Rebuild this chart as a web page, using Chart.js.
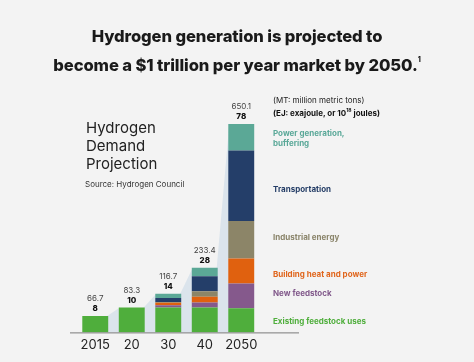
<!DOCTYPE html>
<html>
<head>
<meta charset="utf-8">
<script src="https://cdn.jsdelivr.net/npm/chart.js@4"></script>
<style>
    html, body { margin: 0; padding: 0; }
    body { width: 474px; height: 362px; background: #f3f3f3; position: relative; overflow: hidden; font-family: Inter, 'Open Sans', sans-serif; color: #1a1a1a; }
    #chart { position: absolute; left: 0; top: 0; }
    .title { position: absolute; left: 0; width: 474px; top: 25px; text-align: center; font-weight: 800; font-size: 16.6px; line-height: 23px; letter-spacing: -0.1px; }
    .title sup { font-size: 7px; vertical-align: 9px; }
    .side { position: absolute; left: 86px; top: 119px; font-size: 15px; line-height: 18px; color: #222; }
    .source { position: absolute; left: 85px; top: 179px; font-size: 8px; color: #333; }
    .legend { position: absolute; left: 273px; font-size: 8px; line-height: 9.5px; font-weight: 700; }
</style>
</head>
<body>
<canvas id="chart" width="474" height="362"></canvas>
<div class="title">Hydrogen generation is projected to<br>become a $1 trillion per year market by 2050.<sup>1</sup></div>
<div class="side">Hydrogen<br>Demand<br>Projection</div>
<div class="source">Source: Hydrogen Council</div>
<div class="legend" style="top:96px; font-weight:400; color:#222">(MT: million metric tons)</div>
<div class="legend" style="top:106px; color:#111">(EJ: exajoule, or 10<sup style="font-size:5px">18</sup> joules)</div>
<div class="legend" style="top:129px; color:#5aa898">Power generation,<br>buffering</div>
<div class="legend" style="top:185px; color:#243d66">Transportation</div>
<div class="legend" style="top:233px; color:#8a846a">Industrial energy</div>
<div class="legend" style="top:270px; color:#e0651c">Building heat and power</div>
<div class="legend" style="top:289px; color:#80588a">New feedstock</div>
<div class="legend" style="top:317px; color:#4fae3c">Existing feedstock uses</div>
<script>
// categories and values (EJ)
const years = ['2015', '20', '30', '40', '2050'];
const totalsMT = ['66.7', '83.3', '116.7', '233.4', '650.1'];
const totalsEJ = ['8', '10', '14', '28', '78'];

const existingFeedstock = [6.1, 9.3, 9.3, 9.3, 9.0];
const newFeedstock      = [0, 0, 0.9, 1.9, 9.3];
const buildingHeat      = [0, 0, 0.9, 2.1, 9.3];
const industrialEnergy  = [0, 0, 0.3, 2.1, 14.1];
const transportation    = [0, 0, 1.5, 5.6, 26.3];
const powerGeneration   = [0, 0, 1.6, 3.2, 9.9];

const clrs = {
    existing:  '#4fae3c',
    newFeed:   '#85598c',
    building:  '#e0610f',
    industrial:'#8c8568',
    transport: '#243e69',
    power:     '#5ba896',
    shade:     '#dbe4ec'
};

// light-blue ramps between the bars + baseline
const rampPlugin = {
    id: 'ramp',
    beforeDatasetsDraw(chart) {
        const ctx = chart.ctx;
        const y = chart.scales.y;
        const metas = chart.data.datasets.map((d, i) => chart.getDatasetMeta(i));
        const base = y.getPixelForValue(0);
        const tops = years.map((_, i) => {
            let s = 0;
            chart.data.datasets.forEach(d => s += d.data[i]);
            return y.getPixelForValue(s);
        });
        ctx.save();
        ctx.fillStyle = clrs.shade;
        for (let i = 0; i < years.length - 1; i++) {
            const a = metas[0].data[i], b = metas[0].data[i + 1];
            const ax = a.x + a.width / 2, bx = b.x - b.width / 2;
            ctx.beginPath();
            ctx.moveTo(ax - 1, base);
            ctx.lineTo(ax - 1, tops[i]);
            ctx.lineTo(bx + 1, tops[i + 1]);
            ctx.lineTo(bx + 1, base);
            ctx.closePath();
            ctx.fill();
        }
        ctx.restore();
    },
    afterDatasetsDraw(chart) {
        const ctx = chart.ctx;
        const y = chart.scales.y;
        const meta = chart.getDatasetMeta(0);
        const base = y.getPixelForValue(0);
        ctx.save();
        ctx.strokeStyle = '#7a7a7a';
        ctx.lineWidth = 1;
        ctx.beginPath();
        ctx.moveTo(70, base + 0.5);
        ctx.lineTo(299, base + 0.5);
        ctx.stroke();
        ctx.textAlign = 'center';
        years.forEach((_, i) => {
            let s = 0;
            chart.data.datasets.forEach(d => s += d.data[i]);
            const top = y.getPixelForValue(s);
            const x = meta.data[i].x;
            ctx.fillStyle = '#444';
            ctx.font = '400 8px Inter, sans-serif';
            ctx.fillText(totalsMT[i], x, top - 15);
            ctx.fillStyle = '#111';
            ctx.font = '800 8px Inter, sans-serif';
            ctx.fillText(totalsEJ[i], x, top - 5);
        });
        ctx.restore();
    }
};

const ds = (label, data, color) => ({ label, data, backgroundColor: color, borderWidth: 0 });

new Chart(document.getElementById('chart'), {
    type: 'bar',
    data: {
        labels: years,
        datasets: [
            ds('Existing feedstock uses', existingFeedstock, clrs.existing),
            ds('New feedstock', newFeedstock, clrs.newFeed),
            ds('Building heat and power', buildingHeat, clrs.building),
            ds('Industrial energy', industrialEnergy, clrs.industrial),
            ds('Transportation', transportation, clrs.transport),
            ds('Power generation, buffering', powerGeneration, clrs.power)
        ]
    },
    options: {
        responsive: false,
        animation: false,
        layout: { padding: { left: 77, right: 214.5, top: 65, bottom: 4 } },
        plugins: { legend: { display: false }, tooltip: { enabled: false } },
        datasets: { bar: { barPercentage: 0.71, categoryPercentage: 1 } },
        scales: {
            x: {
                stacked: true,
                grid: { display: false, drawTicks: false },
                border: { display: false },
                ticks: { color: '#222', font: { family: 'Inter', size: 13 }, padding: 5, minRotation: 0, maxRotation: 0, autoSkip: false }
            },
            y: { stacked: true, display: false, min: 0, max: 100 }
        }
    },
    plugins: [rampPlugin]
});
</script>
</body>
</html>
